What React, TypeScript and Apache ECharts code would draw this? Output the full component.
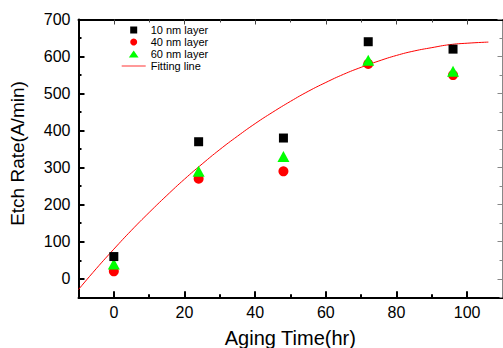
import React, { useEffect, useRef } from "react";
import * as echarts from "echarts";

const agingTime = [0, 24, 48, 72, 96];
const layer10 = [60, 370, 380, 640, 620];
const layer40 = [20, 270, 290, 580, 550];
const layer60 = [40, 290, 330, 590, 560];
const fitX = [-10, -5, 0, 5, 10, 15, 20, 25, 30, 35, 40, 45, 50, 55, 60, 65, 70, 75, 80, 85, 90, 95, 100, 106];
const fitY = [-29, 27, 80, 131, 179, 225, 269, 310, 349, 385, 419, 450, 479, 506, 530, 552, 571, 588, 603, 615, 624, 632, 636, 639];
const xMajor = [0, 20, 40, 60, 80, 100];
const xMinor = [10, 30, 50, 70, 90];
const yMajor = [0, 100, 200, 300, 400, 500, 600, 700];
const yMinor = [-50, 50, 150, 250, 350, 450, 550, 650];
const seriesNames = ["10 nm layer", "40 nm layer", "60 nm layer", "Fitting line"];

const FONT = "'Liberation Sans', Arial, sans-serif";

export default function App() {
  const ref = useRef<HTMLDivElement>(null);
  useEffect(() => {
    if (!ref.current) return;
    const chart = echarts.init(ref.current, null, { renderer: "svg" });
    const gridRect = { left: 78.5, right: 0.5, top: 19.5, bottom: 50.7 };
    const xBase = (gi: number, pos: string) => ({
      type: "value" as const,
      gridIndex: gi,
      position: pos,
      min: -10,
      max: 110,
      splitLine: { show: false },
    });
    const yBase = (gi: number, pos: string) => ({
      type: "value" as const,
      gridIndex: gi,
      position: pos,
      min: -50,
      max: 700,
      splitLine: { show: false },
    });
    chart.setOption({
      animation: false,
      textStyle: { fontFamily: FONT },
      grid: [{ ...gridRect }, { ...gridRect }],
      legend: {
        orient: "vertical",
        left: 121.7,
        top: 24,
        padding: 0,
        itemWidth: 24,
        itemHeight: 7,
        itemGap: 0,
        symbolKeepAspect: true,
        data: [
          { name: seriesNames[0], icon: "path://M0,0h1v1h-1z", itemStyle: { color: "#000", opacity: 1 } },
          { name: seriesNames[1], icon: "circle", itemStyle: { color: "#ff0000", opacity: 1 } },
          { name: seriesNames[2], icon: "path://M0.5,0L1.1,0.86L-0.1,0.86Z", itemStyle: { color: "#00ff00", opacity: 1 } },
          { name: seriesNames[3], icon: "path://M0,0h24v1h-24z", itemStyle: { color: "#ff3333", opacity: 1 } },
        ],
        textStyle: { fontSize: 11, color: "#000", fontFamily: FONT, lineHeight: 12 },
      },
      xAxis: [
        {
          ...xBase(0, "bottom"),
          axisLine: { onZero: false, lineStyle: { color: "#000", width: 2 } },
          axisTick: { inside: true, length: 6, customValues: xMajor, lineStyle: { color: "#000", width: 2 } },
          axisLabel: { customValues: xMajor, fontSize: 16, color: "#000", margin: 7, fontFamily: FONT },
        },
        {
          ...xBase(0, "top"),
          axisLine: { onZero: false, lineStyle: { color: "#000", width: 2 } },
          axisTick: { inside: true, length: 5, customValues: xMajor, lineStyle: { color: "#444", width: 1 } },
          axisLabel: { show: false },
        },
        {
          ...xBase(1, "bottom"),
          axisLine: { show: false, onZero: false },
          axisTick: { inside: true, length: 3, customValues: xMinor, lineStyle: { color: "#000", width: 2 } },
          axisLabel: { show: false },
        },
        {
          ...xBase(1, "top"),
          axisLine: { show: false, onZero: false },
          axisTick: { inside: true, length: 3, customValues: xMinor, lineStyle: { color: "#444", width: 1 } },
          axisLabel: { show: false },
        },
      ],
      yAxis: [
        {
          ...yBase(0, "left"),
          axisLine: { show: true, onZero: false, lineStyle: { color: "#000", width: 2 } },
          axisTick: { show: true, inside: true, length: 6, customValues: yMajor, lineStyle: { color: "#000", width: 2 } },
          axisLabel: { customValues: yMajor, fontSize: 16, color: "#000", margin: 8, fontFamily: FONT },
        },
        {
          ...yBase(0, "right"),
          axisLine: { show: true, onZero: false, lineStyle: { color: "#888", width: 1 } },
          axisTick: { show: true, inside: true, length: 5, customValues: yMajor, lineStyle: { color: "#888", width: 1 } },
          axisLabel: { show: false },
        },
        {
          ...yBase(1, "left"),
          axisLine: { show: false, onZero: false },
          axisTick: { show: true, inside: true, length: 3, customValues: yMinor, lineStyle: { color: "#000", width: 2 } },
          axisLabel: { show: false },
        },
        {
          ...yBase(1, "right"),
          axisLine: { show: false, onZero: false },
          axisTick: { show: true, inside: true, length: 3, customValues: yMinor, lineStyle: { color: "#888", width: 1 } },
          axisLabel: { show: false },
        },
      ],
      series: [
        {
          name: seriesNames[0],
          type: "scatter",
          xAxisIndex: 0,
          yAxisIndex: 0,
          symbol: "rect",
          symbolSize: 9,
          itemStyle: { color: "#000000", opacity: 1 },
          z: 5,
          data: agingTime.map((t, i) => [t, layer10[i]]),
        },
        {
          name: seriesNames[1],
          type: "scatter",
          xAxisIndex: 0,
          yAxisIndex: 0,
          symbol: "circle",
          symbolSize: 10,
          itemStyle: { color: "#ff0000", opacity: 1 },
          z: 3,
          data: agingTime.map((t, i) => [t, layer40[i]]),
        },
        {
          name: seriesNames[2],
          type: "scatter",
          xAxisIndex: 0,
          yAxisIndex: 0,
          symbol: "triangle",
          symbolSize: [12, 11],
          itemStyle: { color: "#00ff00", opacity: 1 },
          z: 4,
          data: agingTime.map((t, i) => [t, layer60[i]]),
        },
        {
          name: seriesNames[3],
          type: "line",
          xAxisIndex: 0,
          yAxisIndex: 0,
          showSymbol: false,
          symbol: "none",
          smooth: true,
          lineStyle: { color: "#ff0000", width: 1 },
          itemStyle: { color: "#ff0000" },
          z: 2,
          data: fitX.map((x, i) => [x, fitY[i]]),
        },
      ],
      graphic: [
        {
          type: "text",
          x: 290.3,
          y: 338,
          style: {
            text: "Aging Time(hr)",
            fontSize: 20,
            fontFamily: FONT,
            fill: "#000",
            align: "center",
            verticalAlign: "middle",
          },
        },
        {
          type: "text",
          x: 17,
          y: 153.5,
          rotation: Math.PI / 2,
          style: {
            text: "Etch Rate(A/min)",
            fontSize: 19,
            fontFamily: FONT,
            fill: "#000",
            align: "center",
            verticalAlign: "middle",
          },
        },
      ],
    });
    return () => chart.dispose();
  }, []);
  return (
    <div
      ref={ref}
      style={{ position: "fixed", left: 0, top: 0, width: 503, height: 348, background: "#fff" }}
    />
  );
}
